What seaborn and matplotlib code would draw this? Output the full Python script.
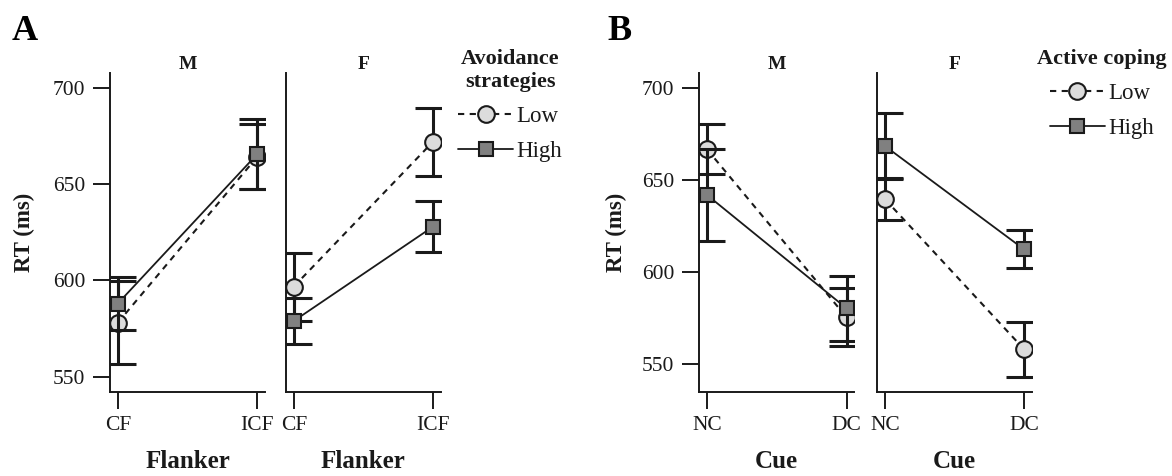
import numpy as np
import pandas as pd
import matplotlib
matplotlib.use("Agg")
import matplotlib.pyplot as plt
from matplotlib.lines import Line2D
import seaborn as sns

# ---- data: mean RT (ms) and error-bar half-widths ----
flanker_levels = ["CF", "ICF"]
cue_levels = ["NC", "DC"]
sex_panels = ["M", "F"]

# Panel A: avoidance strategies (Low / High)
avoid_low_m = [578.0, 664.4]
avoid_low_m_err = [21.7, 16.9]
avoid_high_m = [588.0, 665.8]
avoid_high_m_err = [14.0, 18.2]
avoid_low_f = [596.8, 672.2]
avoid_low_f_err = [17.7, 17.6]
avoid_high_f = [578.9, 628.0]
avoid_high_f_err = [12.0, 13.4]

# Panel B: active coping (Low / High)
coping_low_m = [666.8, 575.5]
coping_low_m_err = [13.6, 15.8]
coping_high_m = [642.0, 580.4]
coping_high_m_err = [25.0, 17.6]
coping_low_f = [639.7, 558.2]
coping_low_f_err = [11.4, 15.0]
coping_high_f = [668.6, 612.5]
coping_high_f_err = [17.8, 10.4]

group_labels = ["Low", "High"]

# ---- style ----
sns.set_theme(style="ticks")
plt.rcParams["font.family"] = ["Liberation Serif", "DejaVu Serif"]
INK = "#1a1a1a"
LOW_FACE = "#dcdcdc"
HIGH_FACE = "#808080"
DASH = (0, (3.0, 2.6))

W, H = 1172, 476
fig = plt.figure(figsize=(W / 100, H / 100), dpi=100)
fig.patch.set_facecolor("white")


def add_ax(left, right, top=72.7, bottom=392.3):
    return fig.add_axes([left / W, 1 - bottom / H, (right - left) / W, (bottom - top) / H])


def draw_panel(ax, levels, low, low_err, high, high_err):
    x = np.arange(len(levels))
    frame = pd.DataFrame({
        "pos": np.concatenate([x, x]),
        "rt": np.concatenate([low, high]),
        "err": np.concatenate([low_err, high_err]),
        "group": [group_labels[0]] * len(x) + [group_labels[1]] * len(x),
    })
    specs = {
        "Low": dict(linestyle=DASH, marker="o", markersize=12, markerfacecolor=LOW_FACE, lw=1.5),
        "High": dict(linestyle="-", marker="s", markersize=9.5, markerfacecolor=HIGH_FACE, lw=1.3),
    }
    z = 3
    for name in group_labels:
        sub = frame[frame["group"] == name]
        ax.errorbar(sub["pos"], sub["rt"], yerr=sub["err"], fmt="none", ecolor=INK,
                    elinewidth=2.2, capsize=13, capthick=2.2, zorder=z)
        sns.lineplot(data=sub, x="pos", y="rt", ax=ax, color=INK, errorbar=None,
                     markeredgecolor=INK, markeredgewidth=1.5, zorder=z + 1,
                     legend=False, sort=False, **specs[name])
        z += 2


def style_axes(ax, levels, ylim, title, xlabel, show_y):
    ax.set_xlim(-0.056, 1.055)
    ax.set_ylim(*ylim)
    ax.set_xticks(np.arange(len(levels)))
    ax.set_xticklabels(levels)
    ax.set_yticks([550, 600, 650, 700])
    sns.despine(ax=ax)
    for side in ("left", "bottom"):
        ax.spines[side].set_linewidth(1.4)
        ax.spines[side].set_color(INK)
    ax.tick_params(axis="both", length=12, width=1.4, color=INK, labelsize=15.5,
                   labelcolor=INK, direction="out")
    ax.tick_params(axis="x", pad=5)
    ax.tick_params(axis="y", pad=6)
    if not show_y:
        ax.tick_params(axis="y", left=False, labelleft=False)
    ax.set_xlabel(xlabel, fontsize=18, fontweight="bold", color=INK, labelpad=11)
    ax.set_ylabel("")
    ax.set_title(title, fontsize=14, fontweight="bold", color=INK, pad=3)
    ax.set_facecolor("white")
    ax.grid(False)


ylim_a = (541.8, 708.1)
ylim_b = (534.8, 708.5)

ax_am = add_ax(110, 265)
ax_af = add_ax(286, 440.7)
ax_bm = add_ax(699.3, 854.3)
ax_bf = add_ax(877.3, 1031.7)

draw_panel(ax_am, flanker_levels, avoid_low_m, avoid_low_m_err, avoid_high_m, avoid_high_m_err)
draw_panel(ax_af, flanker_levels, avoid_low_f, avoid_low_f_err, avoid_high_f, avoid_high_f_err)
draw_panel(ax_bm, cue_levels, coping_low_m, coping_low_m_err, coping_high_m, coping_high_m_err)
draw_panel(ax_bf, cue_levels, coping_low_f, coping_low_f_err, coping_high_f, coping_high_f_err)

style_axes(ax_am, flanker_levels, ylim_a, sex_panels[0], "Flanker", True)
style_axes(ax_af, flanker_levels, ylim_a, sex_panels[1], "Flanker", False)
style_axes(ax_bm, cue_levels, ylim_b, sex_panels[0], "Cue", True)
style_axes(ax_bf, cue_levels, ylim_b, sex_panels[1], "Cue", False)

for ax in (ax_am, ax_bm):
    ax.set_ylabel("RT (ms)", fontsize=16.5, fontweight="bold", color=INK)
ax_am.yaxis.set_label_coords(-0.485, 0.5)
ax_bm.yaxis.set_label_coords(-0.465, 0.5)

# legends
def legend_handles():
    return [
        Line2D([], [], color=INK, linestyle=DASH, lw=1.5, marker="o", markersize=12,
               markerfacecolor=LOW_FACE, markeredgecolor=INK, markeredgewidth=1.5),
        Line2D([], [], color=INK, linestyle="-", lw=1.3, marker="s", markersize=9.5,
               markerfacecolor=HIGH_FACE, markeredgecolor=INK, markeredgewidth=1.5),
    ]


def add_legend(ax, title, left_px, top_px):
    leg = ax.legend(legend_handles(), group_labels, title=title, loc="upper left",
                    bbox_to_anchor=(left_px / W, 1 - top_px / H), bbox_transform=fig.transFigure,
                    frameon=False, borderpad=0, borderaxespad=0, handlelength=2.4,
                    handletextpad=0.15, labelspacing=0.6, numpoints=1,
                    prop={"size": 16.5}, title_fontproperties={"weight": "bold", "size": 16})
    leg.get_title().set_multialignment("center")
    leg.get_title().set_color(INK)
    for t in leg.get_texts():
        t.set_color(INK)
    return leg


add_legend(ax_af, "Avoidance\nstrategies", 458, 49)
add_legend(ax_bf, "Active coping", 1037, 49)

# panel letters
fig.text(12 / W, 1 - 40 / H, "A", fontsize=26, fontweight="bold", color="black", va="baseline")
fig.text(607 / W, 1 - 40 / H, "B", fontsize=26, fontweight="bold", color="black", va="baseline")

fig.savefig("out.png", dpi=100, facecolor="white")
